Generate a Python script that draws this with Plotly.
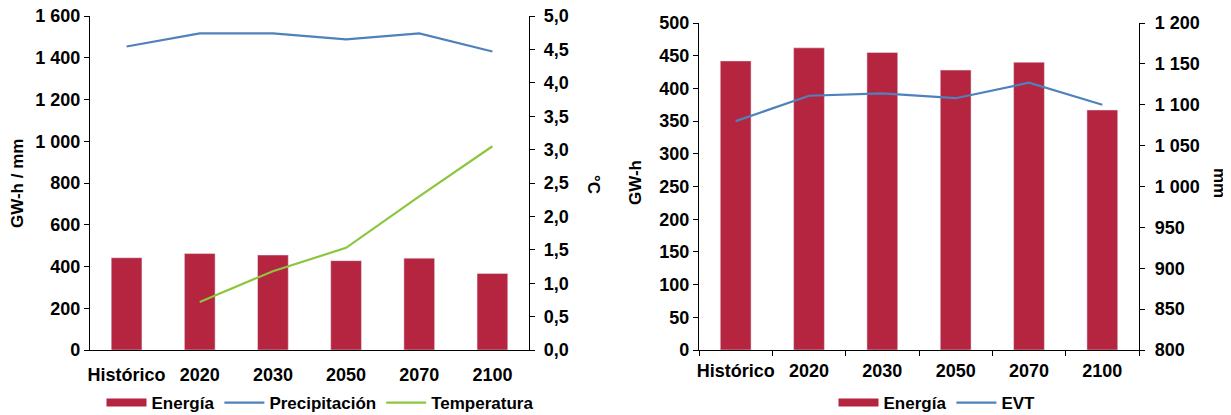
import plotly.graph_objects as go

# ---- data ----
categorias = ["Histórico", "2020", "2030", "2050", "2070", "2100"]
energia = [442, 462, 455, 428, 440, 367]
precipitacion = [1454, 1517, 1517, 1488, 1517, 1430]
temperatura = [None, 0.72, 1.18, 1.53, 2.30, 3.05]
evt = [1080, 1111, 1114, 1108, 1127, 1100]

ROJO = "#B5253F"
AZUL = "#4F81BD"
VERDE = "#8CC63E"
FONT = "Liberation Sans"

# the page body has an 8px margin, so everything is placed in window pixels minus 8
W, H, OFF = 1223, 407, 8


def px(x):
    return (x - OFF) / W


def py(y):
    return 1 - (y - OFF) / H


fig = go.Figure()

# ---- left chart ----
fig.add_trace(go.Bar(x=categorias, y=energia, name="Energía", marker_color=ROJO,
                     xaxis="x", yaxis="y", showlegend=False))
# legend-only swatch (wide rectangle like the original)
fig.add_trace(go.Scatter(x=[None], y=[None], name="Energía", mode="lines",
                         line=dict(color=ROJO, width=8), xaxis="x", yaxis="y", legend="legend"))
fig.add_trace(go.Scatter(x=categorias, y=precipitacion, name="Precipitación", mode="lines",
                         line=dict(color=AZUL, width=2.2), xaxis="x", yaxis="y", legend="legend"))
fig.add_trace(go.Scatter(x=categorias, y=temperatura, name="Temperatura", mode="lines",
                         line=dict(color=VERDE, width=2.2), xaxis="x", yaxis="y2", legend="legend"))

# ---- right chart ----
fig.add_trace(go.Bar(x=categorias, y=energia, name="Energía", marker_color=ROJO,
                     xaxis="x2", yaxis="y3", showlegend=False))
fig.add_trace(go.Scatter(x=[None], y=[None], name="Energía", mode="lines",
                         line=dict(color=ROJO, width=8), xaxis="x2", yaxis="y3", legend="legend2"))
fig.add_trace(go.Scatter(x=categorias, y=evt, name="EVT", mode="lines",
                         line=dict(color=AZUL, width=2.2), xaxis="x2", yaxis="y4", legend="legend2"))

tick_font = dict(family=FONT, size=18, color="black", weight="bold")
axis_common = dict(showgrid=False, zeroline=False, showline=True, linecolor="black",
                   linewidth=1.3, ticks="outside", ticklen=5, tickcolor="black",
                   tickfont=tick_font, automargin=False, ticklabeloverflow="allow")

fig.update_layout(
    width=W, height=H,
    margin=dict(l=0, r=0, t=0, b=0, autoexpand=False),
    paper_bgcolor="white", plot_bgcolor="white",
    separators=", ",
    bargap=0.58,
    font=dict(family=FONT, color="black"),
    xaxis=dict(domain=[px(90), px(529)], anchor="y", showgrid=False, showline=True,
               linecolor="black", linewidth=1.3, ticks="", tickfont=tick_font,
               tickangle=0, automargin=False, ticklabelstandoff=8),
    yaxis=dict(domain=[py(350), py(16)], anchor="x", range=[0, 1600], dtick=200,
               separatethousands=True, **axis_common),
    yaxis2=dict(domain=[py(350), py(16)], anchor="x", overlaying="y", side="right",
                range=[0, 5], dtick=0.5, tickformat=".1f", ticklabelstandoff=5,
                **axis_common),
    xaxis2=dict(domain=[px(699), px(1139)], anchor="y3", showgrid=False, showline=True,
                linecolor="black", linewidth=1.3, ticks="outside", ticklen=5,
                tickson="boundaries", tickcolor="black", tickfont=tick_font,
                tickangle=0, automargin=False, ticklabelstandoff=4),
    yaxis3=dict(domain=[py(350), py(23)], anchor="x2", range=[0, 500], dtick=50,
                **axis_common),
    yaxis4=dict(domain=[py(350), py(23)], anchor="x2", overlaying="y3", side="right",
                range=[800, 1200], dtick=50, separatethousands=True, ticklabelstandoff=6,
                **axis_common),
    legend=dict(orientation="h", x=px(320), xanchor="center", y=py(403), yanchor="middle",
                font=dict(family=FONT, size=17, color="black", weight="bold"),
                itemwidth=40, bgcolor="rgba(0,0,0,0)", tracegroupgap=0),
    legend2=dict(orientation="h", x=px(937), xanchor="center", y=py(403), yanchor="middle",
                 font=dict(family=FONT, size=17, color="black", weight="bold"),
                 itemwidth=40, bgcolor="rgba(0,0,0,0)", tracegroupgap=0),
)

title_font = dict(family=FONT, size=17, color="black", weight="bold")
for txt, x, y, ang in [("GW-h / mm", 17, 184, -90), ("°C", 594, 184, 90),
                       ("GW-h", 636, 183, -90), ("mm", 1219, 183, 90)]:
    fig.add_annotation(text=txt, x=px(x), y=py(y), xref="paper", yref="paper",
                       xanchor="center", yanchor="middle", textangle=ang,
                       showarrow=False, font=title_font)

fig.write_html("out.html")
